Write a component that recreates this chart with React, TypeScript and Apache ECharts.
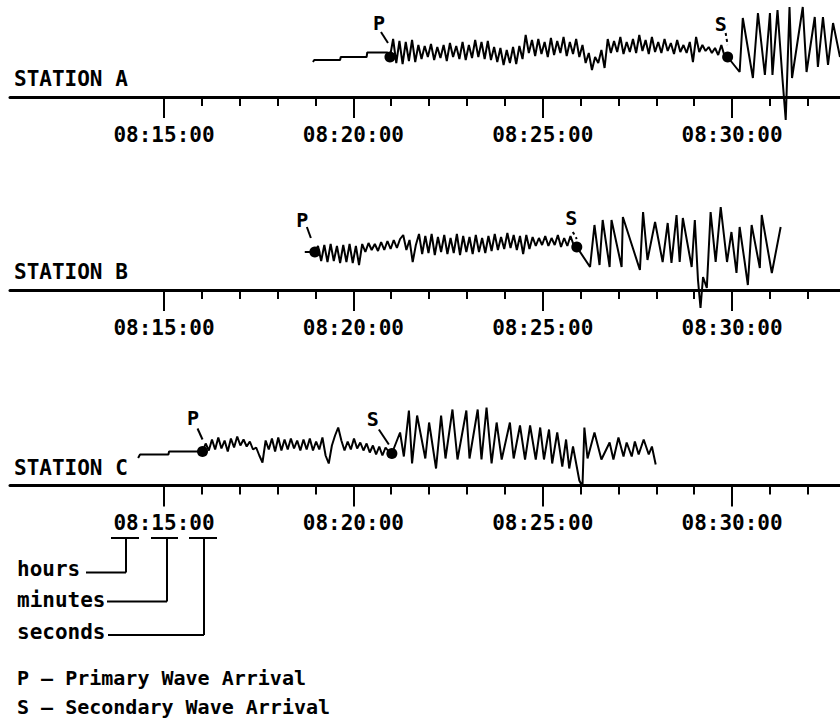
import React, { useEffect, useRef } from "react";
import * as echarts from "echarts";

// ---------- data (times are seconds after 08:00:00, amplitudes in trace units) ----------
const stationNames = ["STATION A", "STATION B", "STATION C"];
const axisStart = "08:10:56";
const axisEnd = "08:32:51";
const majorTickLabels = ["08:15:00", "08:20:00", "08:25:00", "08:30:00"];
const minorTickLabels = [
  "08:16:00", "08:17:00", "08:18:00", "08:19:00",
  "08:21:00", "08:22:00", "08:23:00", "08:24:00",
  "08:26:00", "08:27:00", "08:28:00", "08:29:00",
  "08:31:00", "08:32:00",
];
const SAMPLE_STEP = 5; // seconds between coda samples

// Station A
const preA = [[1136, 35], [1138, 37], [1179, 37], [1180, 40], [1221, 40], [1222, 44.5], [1254, 44.5]];
const codaStartA = 1258; // P arrival
const codaA = [
  40, 58, 34, 56, 33, 55, 36, 57, 35, 52,
  38, 51, 40, 53, 37, 50, 39, 52, 36, 54,
  40, 51, 38, 55, 37, 52, 39, 57, 40, 55,
  38, 56, 37, 50, 35, 49, 32, 47, 34, 50,
  33, 51, 38, 62, 44, 57, 41, 58, 43, 55,
  40, 59, 42, 56, 44, 60, 41, 55, 43, 58,
  40, 52, 34, 44, 27, 40, 34, 47, 29, 58,
  44, 56, 45, 60, 43, 55, 45, 58, 44, 62,
  46, 57, 43, 60, 45, 55, 44, 58, 46, 54,
  43, 57, 45, 52, 44, 55, 35, 60, 45, 52,
  46, 50, 44, 49, 42, 52, 41, 40,
];
const postA = [
  [1812, 25], [1817, 79], [1833, 19], [1841, 84], [1852, 22], [1860, 84], [1864, 22],
  [1872, 87], [1880, 17], [1885, -23], [1891, 90], [1895, 19], [1912, 90], [1918, 25],
  [1931, 80], [1936, 30], [1944, 80], [1952, 32], [1960, 74], [1971, 40],
];

// Station B
const preB = [[1123, 38]];
const codaStartB = 1139;
const codaB = [
  38, 44, 29, 45, 28, 46, 29, 44, 27, 45,
  28, 46, 27, 44, 25, 46, 38, 47, 40, 46,
  39, 48, 40, 49, 41, 50, 42, 51, 55, 40,
  50, 28, 45, 56, 36, 54, 37, 56, 35, 53,
  38, 55, 36, 52, 37, 56, 35, 54, 38, 53,
  36, 55, 38, 52, 37, 54, 39, 56, 40, 53,
  41, 57, 42, 55, 40, 54, 36, 55, 41, 53,
  44, 52, 45, 54, 44, 52, 45, 55, 43, 52,
  44, 54, 45, 43,
];
const postB = [
  [1575, 23], [1582, 65], [1590, 25], [1595, 70], [1606, 23], [1609, 70], [1625, 23],
  [1627, 73], [1654, 20], [1659, 78], [1666, 30], [1678, 68], [1690, 28], [1698, 67],
  [1704, 27], [1712, 75], [1717, 28], [1722, 72], [1736, 23], [1741, 70], [1746, 10],
  [1750, -18], [1754, 13], [1760, 2], [1766, 78], [1774, 28], [1782, 83], [1792, 28],
  [1799, 58], [1807, 17], [1812, 63], [1820, 28], [1825, 5], [1831, 65], [1844, 22],
  [1847, 75], [1863, 17], [1877, 63],
];

// Station C
const preC = [[859, 27.5], [862, 31], [907, 31], [908, 34], [958, 34]];
const codaStartC = 961;
const codaC = [
  34, 42, 35, 46, 36, 48, 37, 45, 34, 47,
  38, 49, 40, 46, 39, 44, 36, 38, 30, 23,
  45, 36, 47, 34, 48, 35, 46, 36, 47, 37,
  45, 35, 46, 36, 47, 35, 44, 36, 48, 30,
  22, 40, 50, 58, 45, 35, 44, 36, 47, 37,
  43, 35, 42, 33, 40, 31, 39, 30, 38, 34,
  32,
];
const postC = [
  [1274, 53], [1280, 29], [1288, 75], [1293, 22], [1301, 70], [1314, 27], [1320, 63],
  [1331, 17], [1339, 70], [1346, 27], [1357, 76], [1365, 26], [1379, 75], [1384, 27],
  [1397, 76], [1403, 26], [1411, 78], [1419, 22], [1427, 63], [1435, 26], [1448, 63],
  [1454, 27], [1464, 60], [1472, 26], [1480, 60], [1489, 26], [1496, 58], [1502, 26],
  [1510, 56], [1515, 22], [1523, 53], [1531, 19], [1537, 46], [1542, 17], [1548, 39],
  [1558, 5], [1563, -1], [1566, 58], [1571, 27], [1582, 53], [1593, 26], [1606, 43],
  [1612, 26], [1620, 48], [1628, 29], [1633, 43], [1641, 29], [1646, 44], [1652, 31],
  [1660, 46], [1668, 31], [1673, 39], [1679, 21],
];

const legendParts = ["hours", "minutes", "seconds"];
const waveLegend = ["P \u2013 Primary Wave Arrival", "S \u2013 Secondary Wave Arrival"];

// ---------- helpers ----------
const parseClock = (s: string) => {
  const [h, m, sec] = s.split(":").map(Number);
  return (h - 8) * 3600 + m * 60 + sec;
};
const fmtClock = (v: number) => {
  const t = Math.round(v) + 8 * 3600;
  const h = Math.floor(t / 3600);
  const m = Math.floor((t % 3600) / 60);
  const s = t % 60;
  return [h, m, s].map((n) => String(n).padStart(2, "0")).join(":");
};

const traces = [
  { pre: preA, start: codaStartA, coda: codaA, post: postA },
  { pre: preB, start: codaStartB, coda: codaB, post: postB },
  { pre: preC, start: codaStartC, coda: codaC, post: postC },
];

// ---------- layout / style ----------
const FONT = "'DejaVu Sans Mono', 'Liberation Mono', monospace";
const AXIS_Y = [97, 290, 485.5];
const GRID_H = 90;
const decor = [
  { pLabel: [-11, -34], pLead: [[-9, -25], [-2, -14]], sLabel: [-7, -33], sLead: [[-2, -24], [0, -12]], sDash: true },
  { pLabel: [-12.5, -32], pLead: [[-8, -25], [-4, -14]], sLabel: [-5.5, -29], sLead: [[-4, -15], [0, -8]], sDash: true },
  { pLabel: [-9.5, -33.5], pLead: [[-5, -23], [0, -12]], sLabel: [-19, -35], sLead: [[-13, -24], [-3, -9]], sDash: false },
];

export default function App() {
  const ref = useRef<HTMLDivElement>(null);

  useEffect(() => {
    if (!ref.current) return;
    const chart = echarts.init(ref.current, undefined, { renderer: "svg" });
    const min = parseClock(axisStart);
    const max = parseClock(axisEnd);
    const majorSecs = majorTickLabels.map(parseClock);
    const minorSecs = minorTickLabels.map(parseClock);

    const grids: any[] = [];
    const xAxes: any[] = [];
    const yAxes: any[] = [];
    const series: any[] = [];
    const markers: number[][][] = [];

    traces.forEach((tr, k) => {
      grids.push({
        left: 10, width: 830, top: AXIS_Y[k] - GRID_H, height: GRID_H,
        containLabel: false, outerBoundsMode: "none",
      });
      xAxes.push({
        type: "value", gridIndex: k, min, max, position: "bottom",
        axisLine: { show: true, onZero: false, lineStyle: { color: "#000", width: 3 } },
        axisTick: { show: true, customValues: majorSecs, length: 21, lineStyle: { color: "#000", width: 2 } },
        axisLabel: {
          show: true, customValues: majorSecs, formatter: fmtClock, margin: 27,
          color: "#000", fontFamily: FONT, fontSize: 21, fontWeight: "bold",
        },
        splitLine: { show: false },
      });
      xAxes.push({
        type: "value", gridIndex: k, min, max, position: "bottom",
        axisLine: { show: false, onZero: false },
        axisTick: { show: true, customValues: minorSecs, length: 9, lineStyle: { color: "#000", width: 2 } },
        axisLabel: { show: false },
        splitLine: { show: false },
      });
      yAxes.push({ type: "value", gridIndex: k, min: 0, max: GRID_H, show: false });

      const codaPts = tr.coda.map((a, i) => [tr.start + i * SAMPLE_STEP, a]);
      const data = [...tr.pre, ...codaPts, ...tr.post];
      const pPt = codaPts[0];
      const sPt = codaPts[codaPts.length - 1];
      markers.push([pPt, sPt]);

      series.push({
        type: "line", xAxisIndex: 2 * k, yAxisIndex: k, data,
        showSymbol: false, symbol: "none", clip: false, silent: true, z: 2,
        lineStyle: { color: "#000", width: 2 },
      });
      series.push({
        type: "scatter", xAxisIndex: 2 * k, yAxisIndex: k, data: [pPt, sPt],
        symbolSize: 11, clip: false, silent: true, z: 3,
        itemStyle: { color: "#000", opacity: 1 },
      });
    });

    chart.setOption({
      animation: false,
      backgroundColor: "#fff",
      grid: grids,
      xAxis: xAxes,
      yAxis: yAxes,
      series,
    });

    const g: any[] = [];
    const txt = (text: string, x: number, y: number, size: number, weight = "bold") => ({
      type: "text", x, y, silent: true,
      style: { text, fill: "#000", font: `${weight} ${size}px ${FONT}`, textAlign: "left", textVerticalAlign: "middle" },
    });
    const ln = (x1: number, y1: number, x2: number, y2: number, dash?: number[]) => ({
      type: "line", silent: true,
      shape: { x1, y1, x2, y2 },
      style: { stroke: "#000", lineWidth: 2, lineDash: dash || null },
    });

    stationNames.forEach((name, k) => {
      g.push(txt(name, 14, AXIS_Y[k] - 18, 21));
      const [pPt, sPt] = markers[k];
      const p = chart.convertToPixel({ seriesIndex: 2 * k }, pPt) as number[];
      const s = chart.convertToPixel({ seriesIndex: 2 * k }, sPt) as number[];
      const d = decor[k];
      g.push({
        type: "text", x: p[0] + d.pLabel[0], y: p[1] + d.pLabel[1], silent: true,
        style: { text: "P", fill: "#000", font: `bold 20px ${FONT}`, textAlign: "center", textVerticalAlign: "middle" },
      });
      g.push(ln(p[0] + d.pLead[0][0], p[1] + d.pLead[0][1], p[0] + d.pLead[1][0], p[1] + d.pLead[1][1]));
      g.push({
        type: "text", x: s[0] + d.sLabel[0], y: s[1] + d.sLabel[1], silent: true,
        style: { text: "S", fill: "#000", font: `bold 20px ${FONT}`, textAlign: "center", textVerticalAlign: "middle" },
      });
      g.push(ln(s[0] + d.sLead[0][0], s[1] + d.sLead[0][1], s[0] + d.sLead[1][0], s[1] + d.sLead[1][1], d.sDash ? [3, 3] : undefined));
    });

    // explanation of the time label
    const underY = 538;
    const segs = [[111, 139], [151, 178], [189, 217]];
    const elbowX = [126, 167, 204];
    const legendY = [572.5, 601.5, 635];
    const textEnd = [86, 107, 108];
    const textY = [569, 600, 632];
    segs.forEach((sg, i) => {
      g.push(ln(sg[0], underY, sg[1], underY));
      g.push(ln(elbowX[i], underY, elbowX[i], legendY[i]));
      g.push(ln(textEnd[i], legendY[i], elbowX[i], legendY[i]));
      g.push(txt(legendParts[i], 17, textY[i], 21));
    });
    g.push(txt(waveLegend[0], 17, 677.5, 20));
    g.push(txt(waveLegend[1], 17, 706.5, 20));

    chart.setOption({ graphic: g });

    return () => chart.dispose();
  }, []);

  return (
    <div
      ref={ref}
      style={{ position: "fixed", left: 0, top: 0, width: 840, height: 721, background: "#fff" }}
    />
  );
}
